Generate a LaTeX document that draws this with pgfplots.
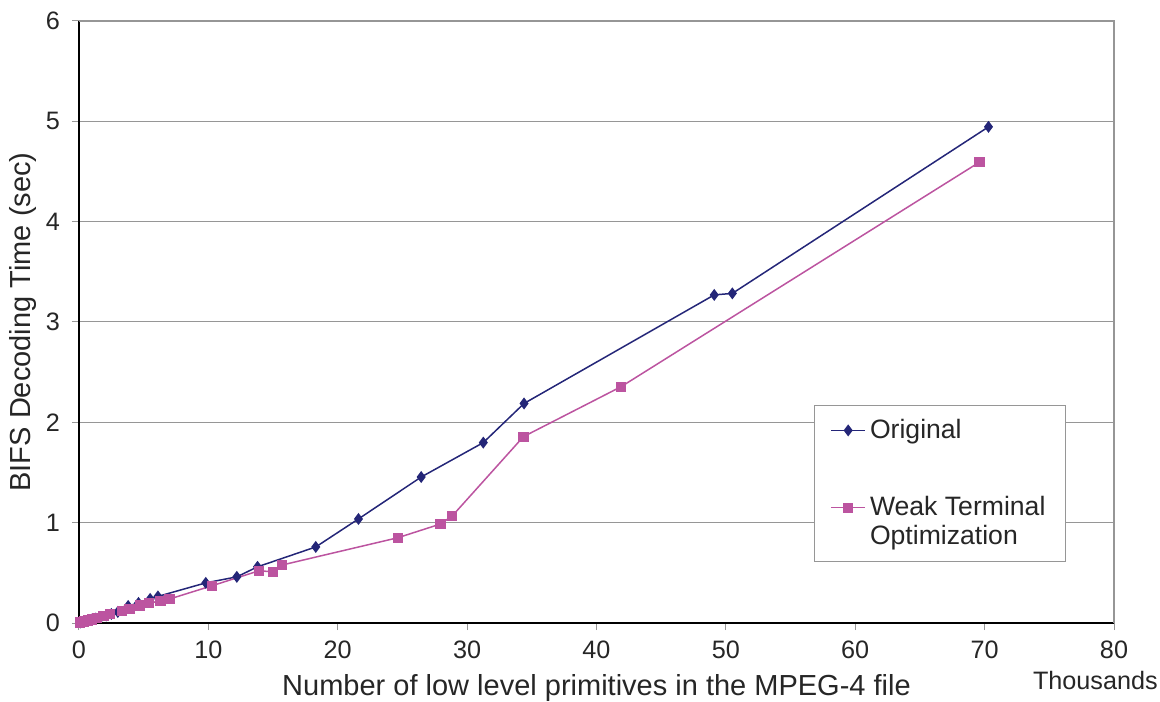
\documentclass[border=0pt]{standalone}
\usepackage{pgfplots}
\pgfplotsset{compat=1.18}
\usepackage{fontspec}
\setmainfont{Liberation Sans}
\definecolor{orig}{RGB}{36,38,120}
\definecolor{weak}{RGB}{188,84,160}
\definecolor{gridc}{RGB}{150,150,150}
\begin{document}
\begin{tikzpicture}[x=0.5pt,y=0.5pt]
\useasboundingbox (0,0) rectangle (1160,701);
\begin{axis}[
  at={(79pt*0.5,78pt*0.5)}, anchor=south west,
  scale only axis, width=517.5pt, height=301pt,
  xmin=0, xmax=80, ymin=0, ymax=6,
  xtick={0,10,...,80}, ytick={0,1,...,6},
  /pgf/number format/assume math mode=true,
  tick label style={font=\fontsize{12.6}{14}\selectfont, text=black!85},
  xticklabel style={yshift=-2pt},
  yticklabel style={xshift=-2.5pt},
  ymajorgrids, grid style={gridc, line width=0.5pt},
  axis line style={draw=none},
  tick style={gridc, line width=0.5pt},
  tick align=outside, major tick length=3.5pt,
  xtick pos=bottom, ytick pos=left,
  xlabel={Number of low level primitives in the MPEG-4 file},
  ylabel={BIFS Decoding Time (sec)},
  label style={font=\fontsize{14.5}{16}\selectfont, text=black!85},
  xlabel style={yshift=-1pt},
  ylabel style={yshift=-2pt},
  legend style={at={(rel axis cs:0.710,0.3625)}, anchor=north west, draw=gridc, line width=0.5pt,
    font=\fontsize{13.3}{14.5}\selectfont, text=black!85, inner xsep=8pt, inner ysep=5pt,
    row sep=23.5pt, nodes={align=left, anchor=west}},
  legend cell align=left,
  clip=false,
]
\addplot[color=orig, line width=0.75pt, mark=diamond*, mark size=2.4pt, mark options={fill=orig}] coordinates {
(0.1,0.005)(0.4,0.015)(0.7,0.025)(1.0,0.035)(1.3,0.045)(1.7,0.06)(2.1,0.075)(2.5,0.09)(3.0,0.11)(3.8,0.17)(4.6,0.2)(5.5,0.24)(6.1,0.265)(9.8,0.40)(12.2,0.46)(13.8,0.56)(18.3,0.758)(21.6,1.037)(26.45,1.455)(31.25,1.798)(34.4,2.188)(49.1,3.27)(50.5,3.285)(70.3,4.945)
};
\addlegendentry{Original}
\addplot[color=weak, line width=0.75pt, mark=square*, mark size=2.2pt, mark options={fill=weak},
  legend image post style={yshift=7.25pt}] coordinates {
(0.1,0.005)(0.4,0.015)(0.7,0.025)(1.0,0.035)(1.4,0.05)(1.9,0.07)(2.4,0.09)(3.3,0.123)(3.9,0.14)(4.7,0.173)(5.4,0.196)(6.3,0.222)(7.0,0.239)(10.3,0.372)(13.9,0.52)(15.0,0.511)(15.7,0.578)(24.65,0.85)(27.95,0.987)(28.85,1.067)(34.35,1.857)(41.9,2.355)(69.6,4.593)
};
\addlegendentry{Weak Terminal\\Optimization}
\draw[black, line width=0.6pt] (rel axis cs:0,1) -- (rel axis cs:0,0) -- (rel axis cs:1,0);
\draw[gridc, line width=0.7pt] (rel axis cs:0,1) -- (rel axis cs:1,1) -- (rel axis cs:1,0);
\node[font=\fontsize{12.6}{14}\selectfont, text=black!85] at (rel axis cs:0.982,-0.096) {Thousands};
\end{axis}
\end{tikzpicture}
\end{document}
